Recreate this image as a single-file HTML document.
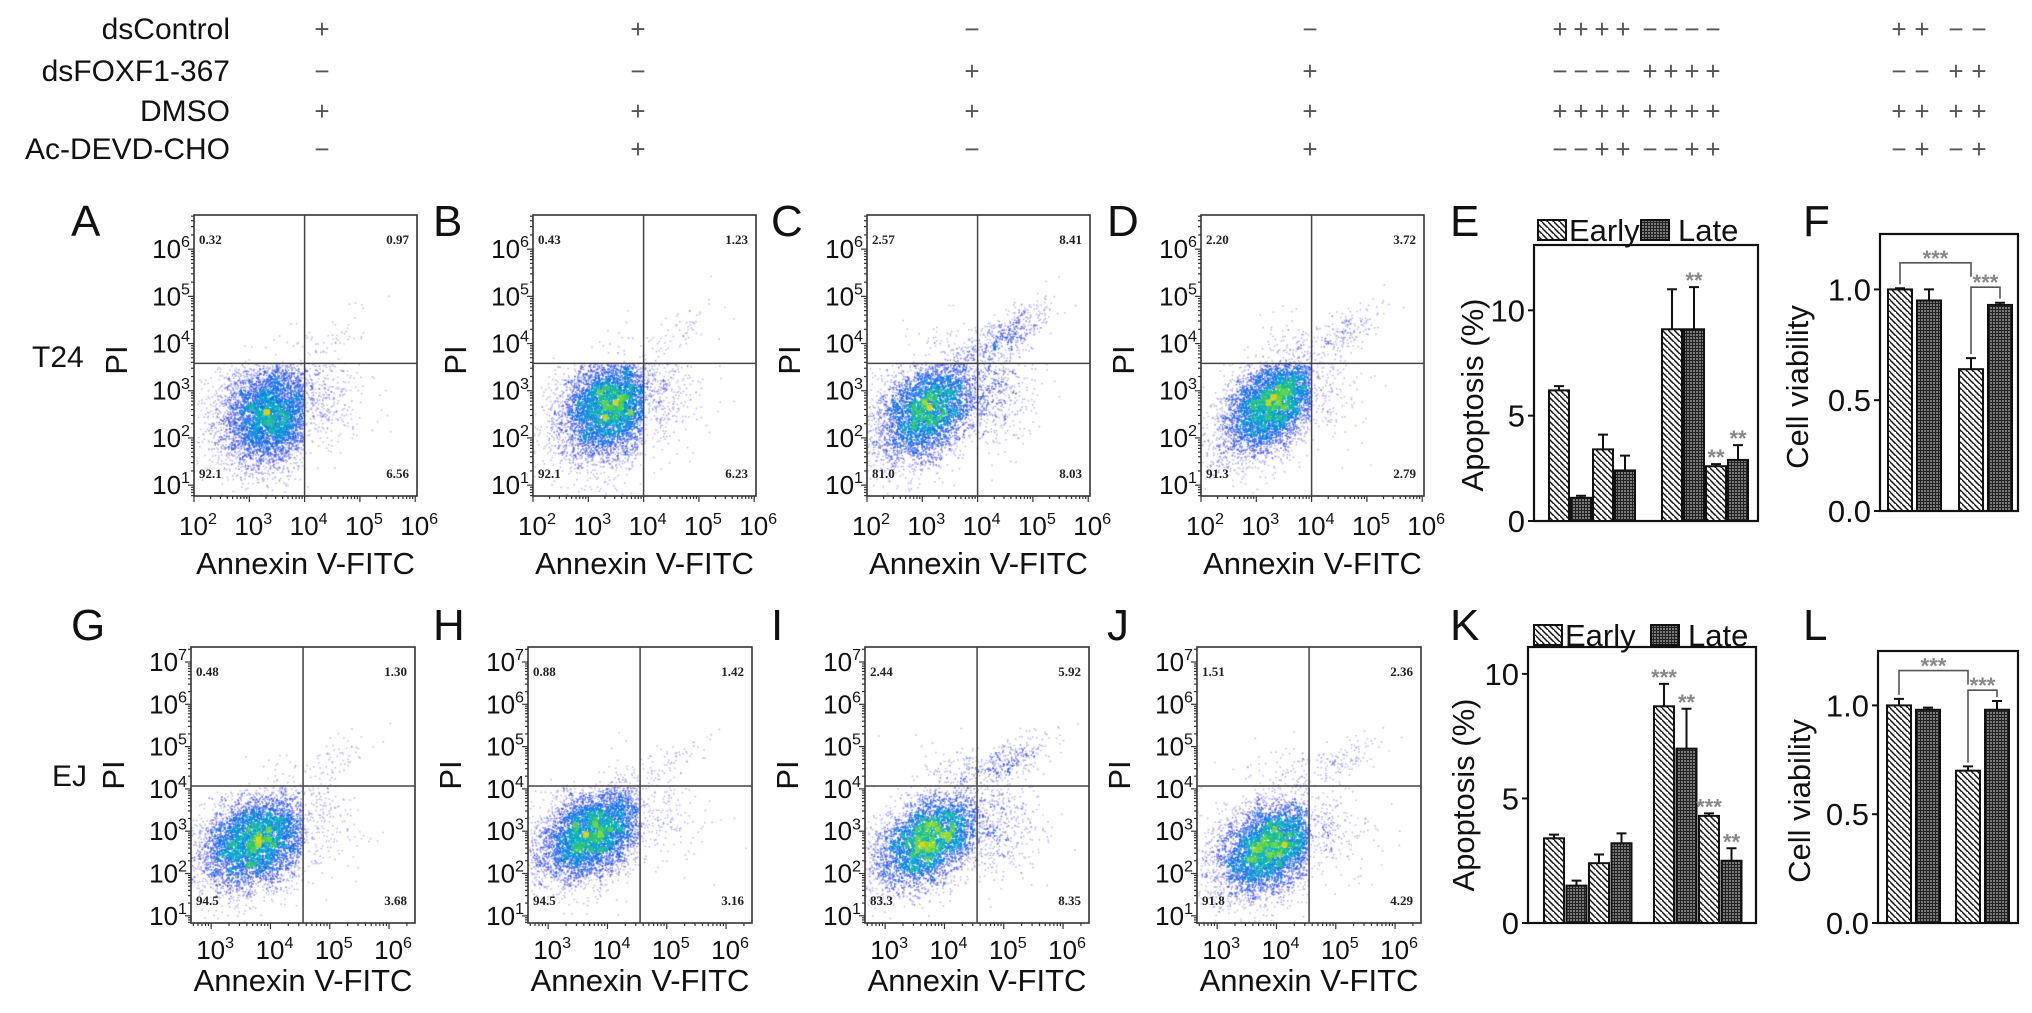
<!DOCTYPE html>
<html><head><meta charset="utf-8">
<style>
html,body{margin:0;padding:0;background:#fff}
body{width:2032px;height:1013px;overflow:hidden;position:relative;font-family:"Liberation Sans",Arial,sans-serif}
canvas{position:absolute}
#fig{position:absolute;left:0;top:0}
</style></head>
<body>
<div id="dots"></div>
<svg id="fig" width="2032" height="1013" font-family="Liberation Sans, Arial, sans-serif">
<defs>
<pattern id="hatch" patternUnits="userSpaceOnUse" width="6" height="6">
<rect width="6" height="6" fill="#fff"/>
<path d="M-1,-1 L7,7 M-4,2 L2,8 M4,-4 L10,2" stroke="#111" stroke-width="1.5"/>
</pattern>
<pattern id="grid" patternUnits="userSpaceOnUse" width="3" height="3">
<rect width="3" height="3" fill="#7a7a7a"/>
<path d="M0,0.5H3M0.5,0V3" stroke="#222" stroke-width="1"/>
</pattern>
</defs>
<g id="table" font-size="30" fill="#111">
<text x="230" y="39" text-anchor="end">dsControl</text>
<text x="230" y="81" text-anchor="end">dsFOXF1-367</text>
<text x="230" y="121" text-anchor="end">DMSO</text>
<text x="230" y="159" text-anchor="end">Ac-DEVD-CHO</text>
</g>
<g id="plots"></g>
</svg>
<script>
// ---------- data ----------
const tableRows = ['dsControl','dsFOXF1-367','DMSO','Ac-DEVD-CHO'];
const tableFlow = [['+','+','−','−'],['−','−','+','+'],['+','+','+','+'],['−','+','−','+']];
const tableE = ['++++−−−−','−−−−++++','++++++++','−−++−−++'];
const tableF = ['++−−','−−++','++++','−+−+'];

const flowLabels = ['A','B','C','D','G','H','I','J'];
const pctUL = [0.32,0.43,2.57,2.20,0.48,0.88,2.44,1.51];
const pctUR = [0.97,1.23,8.41,3.72,1.30,1.42,5.92,2.36];
const pctLL = [92.1,92.1,81.0,91.3,94.5,94.5,83.3,91.8];
const pctLR = [6.56,6.23,8.03,2.79,3.68,3.16,8.35,4.29];
const clusterX = [3.4,3.4,3.1,3.3,3.75,3.75,3.75,3.9];
const clusterY = [2.5,2.65,2.6,2.75,2.75,2.95,2.8,2.6];
const clusterRho = [0.15,0.2,0.35,0.5,0.3,0.4,0.45,0.35];

const eEarly = [6.2,3.4,9.1,2.6];
const eLate = [1.1,2.4,9.1,2.9];
const eEarlyErr = [0.2,0.7,1.9,0.1];
const eLateErr = [0.1,0.7,2.0,0.7];
const eStars = ['','','','','','**','**','**'];

const kEarly = [3.4,2.4,8.7,4.3];
const kLate = [1.5,3.2,7.0,2.5];
const kEarlyErr = [0.15,0.35,0.9,0.1];
const kLateErr = [0.2,0.4,1.6,0.5];
const kStars = ['','','','','***','**','***','**'];

const fVals = [1.0,0.95,0.64,0.93];
const fErr = [0.005,0.05,0.05,0.01];
const lVals = [1.0,0.98,0.70,0.98];
const lErr = [0.03,0.01,0.02,0.04];

const apoTicks = [0,5,10];
const apoTickLabels = ['0','5','10'];
const viaTicks = [0,0.5,1.0];
const viaTickLabels = ['0.0','0.5','1.0'];

// ---------- helpers ----------
const NS = 'http://www.w3.org/2000/svg';
const root = document.getElementById('plots');
function mk(tag, attrs, parent){
  const e = document.createElementNS(NS, tag);
  for (const k in attrs) e.setAttribute(k, attrs[k]);
  (parent||root).appendChild(e);
  return e;
}
function txt(s, attrs, parent){
  const e = mk('text', attrs, parent);
  e.textContent = s;
  return e;
}
function pow10(parent, x, y, exp, anchor, size){
  const t = mk('text', {x:x, y:y, 'text-anchor':anchor, 'font-size':size, fill:'#111'}, parent);
  const a = document.createElementNS(NS,'tspan'); a.textContent='10'; t.appendChild(a);
  const b = document.createElementNS(NS,'tspan'); b.textContent=String(exp);
  b.setAttribute('dy', -size*0.42); b.setAttribute('font-size', size*0.62); t.appendChild(b);
  return t;
}

// ---------- table symbols ----------
const tbl = document.getElementById('table');
const rowBase = [39,81,121,159];
const flowCols = [322,638,972,1310];
for (let r=0;r<4;r++){
  for (let c=0;c<4;c++){
    const s = txt(tableFlow[r][c], {x:flowCols[c], y:rowBase[r]-1, 'text-anchor':'middle','font-size':26, fill:'#555'}, tbl);
    
    
  }
  const es = tableE[r];
  for (let i=0;i<8;i++){
    const s = txt(es[i], {x:1560+i*21+(i>=4?6:0), y:rowBase[r]-1, 'text-anchor':'middle','font-size':26, fill:'#555'}, tbl);
    
    
  }
  const fs = tableF[r];
  const fx = [1899,1922,1956,1979];
  for (let i=0;i<4;i++){
    const s = txt(fs[i], {x:fx[i], y:rowBase[r]-1, 'text-anchor':'middle','font-size':26, fill:'#555'}, tbl);
    
    
  }
}

// ---------- flow panels ----------
const rowsCfg = [
  {top:215,bottom:496,w:223,xMin:2,xPx:55.3,xTicks:[2,3,4,5,6],yMin:0.77,yPx:47.2,yTicks:[1,2,3,4,5,6],vx:4.0,hy:3.58,lefts:[194,533,867,1201],letterY:236,xLabY:535,titleY:574,piY:360,n:5200},
  {top:647,bottom:923,w:224,xMin:2.66,xPx:59.3,xTicks:[3,4,5,6],yMin:0.83,yPx:42.3,yTicks:[1,2,3,4,5,6,7],vx:4.55,hy:4.07,lefts:[191,528,865,1197],letterY:640,xLabY:959,titleY:991,piY:775,n:5200}
];
const letterX = [71,433,771,1107];

function rng(seed){return function(){seed|=0;seed=seed+0x6D2B79F5|0;let t=Math.imul(seed^seed>>>15,1|seed);t=t+Math.imul(t^t>>>7,61|t)^t;return((t^t>>>14)>>>0)/4294967296;};}
function cmap(t){
  const st=[[0,[130,120,255]],[0.2,[60,70,245]],[0.45,[20,110,235]],[0.65,[0,170,200]],[0.82,[50,200,100]],[0.94,[150,220,40]],[1,[220,210,20]]];
  for(let i=1;i<st.length;i++){ if(t<=st[i][0]){ const a=st[i-1],b=st[i],f=(t-a[0])/(b[0]-a[0]); return a[1].map((v,j)=>Math.round(v+(b[1][j]-v)*f)); } }
  return st[st.length-1][1];
}

for (let p=0;p<8;p++){
  const R = rowsCfg[p<4?0:1];
  const col = p%4;
  const L = R.lefts[col], T = R.top, W = R.w, H = R.bottom-R.top;
  const X = lx => L + (lx-R.xMin)*R.xPx;
  const Y = ly => R.bottom - (ly-R.yMin)*R.yPx;
  const g = mk('g', {});
  
  

  const cv = document.createElement('canvas');
  cv.width=W; cv.height=H; cv.style.left=L+'px'; cv.style.top=T+'px';
  
  
  document.getElementById('dots').appendChild(cv);
  const ctx = cv.getContext('2d');
  const r = rng(1234+p*97);
  const gauss = ()=>{let u=0,v=0;while(u===0)u=r();while(v===0)v=r();return Math.sqrt(-2*Math.log(u))*Math.cos(2*Math.PI*v);};
  const pts=[];
  const N=R.n;
  const ymax = R.yMin + H/R.yPx, xmax = R.xMin + W/R.xPx;
  const cx=clusterX[p], cy=clusterY[p], rho=clusterRho[p];
  const nLL=Math.round(N*pctLL[p]/100), nLR=Math.round(N*pctLR[p]/100), nUR=Math.round(N*pctUR[p]/100), nUL=Math.round(N*pctUL[p]/100);
  for(let i=0;i<nLL;i++){
    for(let k=0;k<20;k++){
      const z1=gauss(), z2=gauss();
      const x=cx+0.48*z1, y=cy+0.58*(rho*z1+Math.sqrt(1-rho*rho)*z2);
      if(x<R.vx && y<R.hy && x>R.xMin && y>R.yMin){pts.push([x,y]);break;}
    }
  }
  for(let i=0;i<nLR;i++){
    for(let k=0;k<20;k++){
      const x=R.vx+Math.abs(gauss())*0.5, y=cy+0.4+gauss()*0.6;
      if(x>R.vx && y<R.hy && x<xmax && y>R.yMin){pts.push([x,y]);break;}
    }
  }
  for(let i=0;i<nUR;i++){
    for(let k=0;k<20;k++){
      const z=gauss();
      const x=R.vx+0.5+z*0.35+gauss()*0.18, y=R.hy+0.55+z*0.3+gauss()*0.22;
      if(x>R.vx && y>R.hy && x<xmax && y<ymax){pts.push([x,y]);break;}
    }
  }
  for(let i=0;i<nUL;i++){
    for(let k=0;k<20;k++){
      const x=R.vx-Math.abs(gauss())*0.5, y=R.hy+Math.abs(gauss())*0.45;
      if(x<R.vx && y>R.hy && x>R.xMin && y<ymax){pts.push([x,y]);break;}
    }
  }
  const bs=5, gw=Math.ceil(W/bs)+1, gh=Math.ceil(H/bs)+1, cnt=new Float32Array(gw*gh);
  const pp = pts.map(q=>[(q[0]-R.xMin)*R.xPx, H-(q[1]-R.yMin)*R.yPx]);
  pp.forEach(q=>{cnt[Math.floor(q[1]/bs)*gw+Math.floor(q[0]/bs)]++;});
  let mx=0; for(const c of cnt) if(c>mx) mx=c;
  const order = pp.map((q,i)=>[cnt[Math.floor(q[1]/bs)*gw+Math.floor(q[0]/bs)],i]).sort((a,b)=>a[0]-b[0]);
  for(const [c,i] of order){
    const t=Math.pow(c/mx,0.9);
    const [rr,gg,bb]=cmap(t);
    const a = t<0.15?0.5:(t<0.4?0.7:0.9);
    ctx.fillStyle=`rgba(${rr},${gg},${bb},${a})`;
    ctx.fillRect(pp[i][0]-0.7,pp[i][1]-0.7,1.5,1.5);
  }

  const fr = mk('rect', {x:L,y:T,width:W,height:H,fill:'none',stroke:'#333','stroke-width':1.6}, g);
  
  
  const qv = mk('line', {x1:X(R.vx),x2:X(R.vx),y1:T,y2:R.bottom,stroke:'#444','stroke-width':1.5}, g);
  
  
  const qh = mk('line', {x1:L,x2:L+W,y1:Y(R.hy),y2:Y(R.hy),stroke:'#444','stroke-width':1.5}, g);
  
  

  for(let d=Math.floor(R.yMin); d<=Math.ceil(ymax); d++){
    for(let m=1;m<10;m++){
      const lv=d+Math.log10(m); if(lv<R.yMin||lv>ymax) continue;
      const tk = mk('line',{x1:L,x2:L-(m===1?6:3),y1:Y(lv),y2:Y(lv),stroke:'#333','stroke-width':1.2},g);
      
      
    }
  }
  for(let d=Math.floor(R.xMin); d<=Math.ceil(xmax); d++){
    for(let m=1;m<10;m++){
      const lv=d+Math.log10(m); if(lv<R.xMin||lv>xmax) continue;
      const tk = mk('line',{x1:X(lv),x2:X(lv),y1:R.bottom,y2:R.bottom+(m===1?6:3),stroke:'#333','stroke-width':1.2},g);
      
      
    }
  }
  R.yTicks.forEach(e=>{
    const t = pow10(g, L-4, Y(e)+9, e, 'end', 26);
    
    
  });
  R.xTicks.forEach(e=>{
    const t = pow10(g, X(e)+4, R.xLabY, e, 'middle', 26);
    
    
  });
  const xt = txt('Annexin V-FITC',{x:L+W/2,y:R.titleY,'text-anchor':'middle','font-size':31,fill:'#111'},g);
  
  
  const yt = txt('PI',{x:0,y:0,'text-anchor':'middle','font-size':31,fill:'#111',transform:`translate(${L-67},${R.piY}) rotate(-90)`},g);
  
  
  const lt = txt(flowLabels[p],{x:letterX[col],y:R.letterY,'font-size':44,fill:'#111'},g);
  
  
  const qs = {'font-size':13,'font-weight':'bold','font-family':'Liberation Serif, serif',fill:'#222'};
  const q1 = txt(pctUL[p].toFixed(2),Object.assign({x:L+5,y:T+29},qs),g);
  
  
  const q2 = txt(pctUR[p].toFixed(2),Object.assign({x:L+W-8,y:T+29,'text-anchor':'end'},qs),g);
  
  
  const q3 = txt(pctLL[p].toFixed(1),Object.assign({x:L+5,y:R.bottom-18},qs),g);
  
  
  const q4 = txt(pctLR[p].toFixed(2),Object.assign({x:L+W-8,y:R.bottom-18,'text-anchor':'end'},qs),g);
  
  
}
const c1 = txt('T24',{x:32,y:367,'font-size':30,fill:'#111'});


const c2 = txt('EJ',{x:52,y:786,'font-size':30,fill:'#111'});



// ---------- bar charts ----------
function barChart(cfg){
  const g = mk('g',{});
  
  
  const Y = v => cfg.bottom - v/cfg.ymax*(cfg.bottom-cfg.top);
  const fr = mk('rect',{x:cfg.left,y:cfg.top,width:cfg.right-cfg.left,height:cfg.bottom-cfg.top,fill:'none',stroke:'#111','stroke-width':2.2},g);
  
  
  cfg.ticks.forEach((v,i)=>{
    const tk = mk('line',{x1:cfg.left,x2:cfg.left-6,y1:Y(v),y2:Y(v),stroke:'#111','stroke-width':2},g);
    
    
    const tl = txt(cfg.tickLabels[i],{x:cfg.left-9,y:Y(v)+11,'text-anchor':'end','font-size':31,fill:'#111'},g);
    
    
  });
  const yt = txt(cfg.ylabel,{x:0,y:0,'text-anchor':'middle','font-size':31,fill:'#111',transform:`translate(${cfg.ylx},${cfg.yly}) rotate(-90)`},g);
  
  
  const lt = txt(cfg.letter,{x:cfg.letterX,y:cfg.letterY,'font-size':44,fill:'#111'},g);
  
  
  const tops=[];
  cfg.vals.forEach((v,i)=>{
    const grp = Math.floor(i/cfg.perGroup), k = i%cfg.perGroup;
    const x = cfg.left + cfg.groupStart[grp] + k*cfg.step;
    const fill = (i%2===0)?'url(#hatch)':'url(#grid)';
    const b = mk('rect',{x:x,y:Y(v),width:cfg.bw,height:Y(0)-Y(v),fill:fill,stroke:'#111','stroke-width':2},g);
    
    
    const cx = x+cfg.bw/2, e=cfg.errs[i];
    const eb = mk('path',{d:`M${cx},${Y(v)}V${Y(v+e)}M${cx-5},${Y(v+e)}H${cx+5}`,stroke:'#111','stroke-width':2,fill:'none'},g);
    
    
    tops.push([cx,Y(v+e)]);
    if(cfg.stars && cfg.stars[i]){
      const s = txt(cfg.stars[i],{x:cx,y:Y(v+e)+1,'text-anchor':'middle','font-size':22,fill:'#888','font-weight':'bold'},g);
      
      
    }
  });
  if(cfg.legend){
    const lg = cfg.legend;
    const b1 = mk('rect',{x:lg.x1,y:lg.y-20,width:28,height:20,fill:'url(#hatch)',stroke:'#111','stroke-width':2},g);
    
    
    const t1 = txt('Early',{x:lg.x1+31,y:lg.y+1,'font-size':31,fill:'#111'},g);
    
    
    const b2 = mk('rect',{x:lg.x2,y:lg.y-20,width:28,height:20,fill:'url(#grid)',stroke:'#111','stroke-width':2},g);
    
    
    const t2 = txt('Late',{x:lg.x2+37,y:lg.y+1,'font-size':31,fill:'#111'},g);
    
    
  }
  if(cfg.brackets){
    const [b1y,b2y] = cfg.brackets.map(v=>Y(v));
    const p1 = mk('path',{d:`M${tops[0][0]},${tops[0][1]-4}V${b1y}H${tops[2][0]}V${b1y+14}`,stroke:'#555','stroke-width':1.6,fill:'none'},g);
    
    
    const s1 = txt('***',{x:(tops[0][0]+tops[2][0])/2,y:b1y+3,'text-anchor':'middle','font-size':22,fill:'#888','font-weight':'bold'},g);
    
    
    const p2 = mk('path',{d:`M${tops[2][0]},${tops[2][1]-4}V${b2y}H${tops[3][0]}V${tops[3][1]-4}`,stroke:'#555','stroke-width':1.6,fill:'none'},g);
    
    
    const s2 = txt('***',{x:(tops[2][0]+tops[3][0])/2,y:b2y+3,'text-anchor':'middle','font-size':22,fill:'#888','font-weight':'bold'},g);
    
    
  }
}
function interleave(a,b){const o=[];a.forEach((v,i)=>{o.push(v);o.push(b[i]);});return o;}

barChart({name:'apoptosis-chart-e',left:1534,right:1758,top:245,bottom:521,ymax:13.1,ticks:apoTicks,tickLabels:apoTickLabels,
  ylabel:'Apoptosis (%)',ylx:1483,yly:395,letter:'E',letterX:1450,letterY:236,
  vals:interleave(eEarly,eLate),errs:interleave(eEarlyErr,eLateErr),stars:eStars,perGroup:4,groupStart:[15,128],step:22,bw:20,
  legend:{x1:1538,x2:1641,y:240}});
barChart({name:'apoptosis-chart-k',left:1528,right:1756,top:647,bottom:923,ymax:11.08,ticks:apoTicks,tickLabels:apoTickLabels,
  ylabel:'Apoptosis (%)',ylx:1474,yly:795,letter:'K',letterX:1450,letterY:640,
  vals:interleave(kEarly,kLate),errs:interleave(kEarlyErr,kLateErr),stars:kStars,perGroup:4,groupStart:[16,126],step:22.5,bw:20,
  legend:{x1:1534,x2:1651,y:645}});
barChart({name:'viability-chart-f',left:1880,right:2018,top:234,bottom:511,ymax:1.25,ticks:viaTicks,tickLabels:viaTickLabels,
  ylabel:'Cell viability',ylx:1808,yly:387,letter:'F',letterX:1803,letterY:236,
  vals:fVals,errs:fErr,perGroup:2,groupStart:[8,79],step:29,bw:24,brackets:[1.12,1.01]});
barChart({name:'viability-chart-l',left:1878,right:2018,top:651,bottom:923,ymax:1.25,ticks:viaTicks,tickLabels:viaTickLabels,
  ylabel:'Cell viability',ylx:1810,yly:801,letter:'L',letterX:1803,letterY:640,
  vals:lVals,errs:lErr,perGroup:2,groupStart:[9,78],step:29,bw:24,brackets:[1.16,1.07]});
</script>
</body></html>
